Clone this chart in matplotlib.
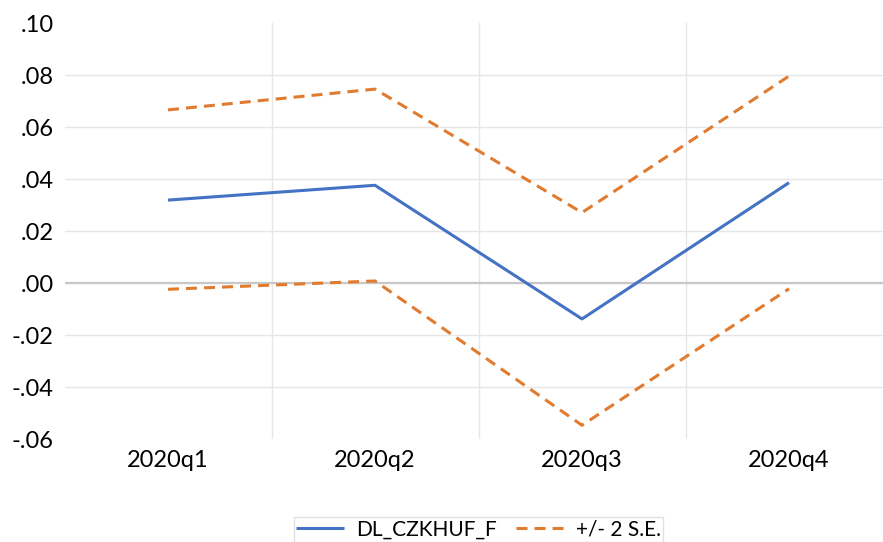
import matplotlib
matplotlib.use("Agg")
import matplotlib.pyplot as plt
from matplotlib.ticker import FixedLocator

plt.rcParams['font.family'] = ['Lato', 'DejaVu Sans']

categories = ["2020q1", "2020q2", "2020q3", "2020q4"]
forecast = [0.032, 0.0377, -0.0137, 0.0387]
upper = [0.0667, 0.0747, 0.0272, 0.0797]
lower = [-0.0023, 0.0009, -0.0546, -0.0021]
yticks = [-0.06, -0.04, -0.02, 0.00, 0.02, 0.04, 0.06, 0.08, 0.10]
ytick_labels = ["-.06", "-.04", "-.02", ".00", ".02", ".04", ".06", ".08", ".10"]

fig = plt.figure(figsize=(8.83, 5.42), dpi=100)
ax = fig.add_axes([64.5 / 883, 1 - 439.3 / 542, 1 - 64.5 / 883, (439.3 - 23.3) / 542])

x = list(range(len(categories)))
blue = "#4472C4"
orange = "#E07B30"

l1, = ax.plot(x, forecast, color=blue, lw=2.2, solid_capstyle='butt', zorder=3)
l2, = ax.plot(x, upper, color=orange, lw=2.2, ls=(0, (3.6, 2.3)), zorder=3)
ax.plot(x, lower, color=orange, lw=2.2, ls=(0, (3.6, 2.3)), zorder=3)

ax.set_xlim(-0.5, (883 - 168) / 207)
ax.set_ylim(-0.06, 0.10)
ax.set_xticks(x)
ax.set_xticklabels(categories, fontsize=17)
ax.set_yticks(yticks)
ax.set_yticklabels(ytick_labels, fontsize=17)
ax.tick_params(axis='both', length=0)
ax.tick_params(axis='y', pad=8)
ax.tick_params(axis='x', pad=8)

ax.xaxis.set_minor_locator(FixedLocator([0.5, 1.5, 2.5]))
ax.tick_params(axis='x', which='minor', length=0)
ax.grid(axis='x', which='minor', color='#e6e6e6', lw=1)
ax.grid(axis='x', which='major', visible=False)
ax.grid(axis='y', which='major', color='#e6e6e6', lw=1)
gl = ax.get_ygridlines()
gl[0].set_visible(False)
gl[-1].set_visible(False)
ax.axhline(0, color='#c8c8c8', lw=1.6, zorder=2)
ax.set_axisbelow(True)

for s in ax.spines.values():
    s.set_visible(False)

leg = fig.legend([l1, l2], ["DL_CZKHUF_F", "+/- 2 S.E."], loc='upper center',
                 bbox_to_anchor=(478.5 / 883, 1 - 507 / 542), ncol=2, fontsize=15,
                 frameon=True, fancybox=False, edgecolor='#d9d9d9',
                 handlelength=2.3, handletextpad=0.6, columnspacing=0.9,
                 borderpad=0.1)
leg.get_frame().set_linewidth(1)

fig.savefig("out.png", dpi=100)
